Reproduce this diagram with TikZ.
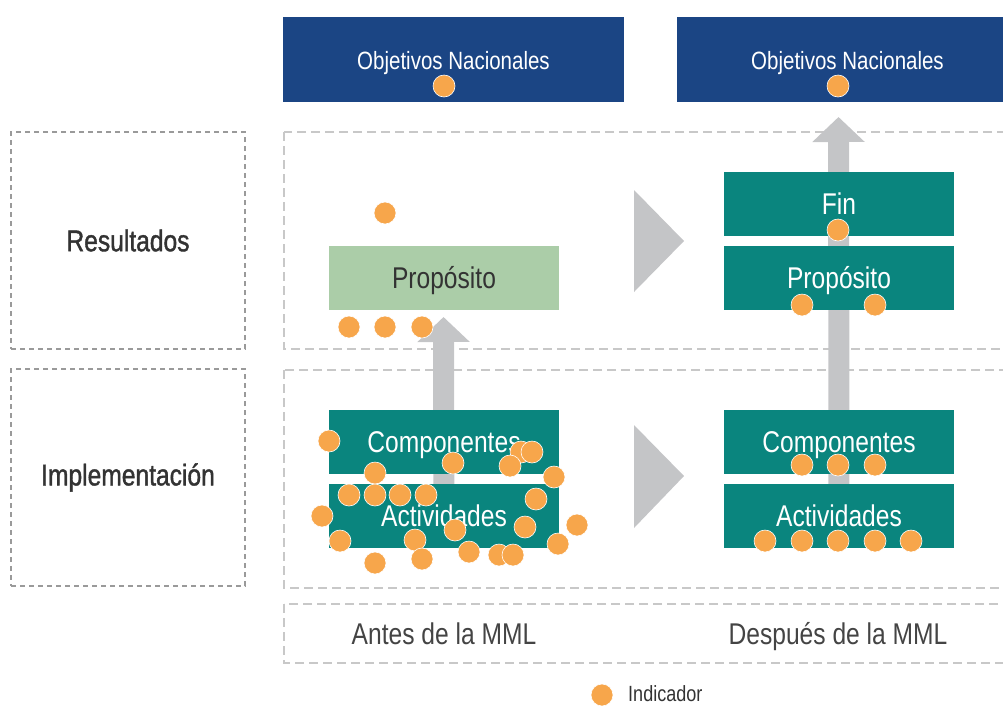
\documentclass[tikz,border=0pt]{standalone}
\usepackage{fontspec}
\setmainfont{Liberation Sans}[FakeStretch=0.82]
\newfontfamily\medfont{Liberation Sans}[FakeStretch=0.82,FakeBold=1.3]
\usetikzlibrary{arrows.meta}
\definecolor{navyc}{HTML}{1B4584}
\definecolor{tealc}{HTML}{0A857E}
\definecolor{greenc}{HTML}{ABCDA8}
\definecolor{orangec}{HTML}{F7A64B}
\definecolor{arrowc}{HTML}{C4C5C7}
\definecolor{dashc}{HTML}{C8C8C8}
\definecolor{ldashc}{HTML}{9A9A9A}
\definecolor{textc}{HTML}{444444}
\definecolor{darktextc}{HTML}{333333}
\pgfdeclarelayer{bgg}
\pgfdeclarelayer{bg}
\pgfsetlayers{bgg,bg,main}
\begin{document}
\begin{tikzpicture}[x=1pt,y=-1pt,
  dashbox/.style={draw=dashc, line width=2pt, dash pattern=on 9pt off 5pt},
  lbox/.style={draw=ldashc, line width=2pt, dash pattern=on 5pt off 4pt, minimum width=234pt, minimum height=217pt, inner sep=0pt, text=darktextc, font=\medfont\fontsize{30}{36}\selectfont},
  navybox/.style={fill=navyc, minimum width=341pt, minimum height=85pt, inner sep=0pt},
  navytext/.style={text=white, font=\fontsize{25}{30}\selectfont, inner sep=0pt, text height=17.9pt, text depth=0pt},
  tealbox/.style={fill=tealc, minimum width=230pt, minimum height=64pt, inner sep=0pt, text=white, font=\fontsize{30}{36}\selectfont, text height=21.5pt, text depth=0pt},
  greenbox/.style={fill=greenc, minimum width=230pt, minimum height=64pt, inner sep=0pt, text=darktextc, font=\fontsize{30}{36}\selectfont, text height=21.5pt, text depth=0pt},
  dotc/.style={fill=orangec, draw=white, line width=0.6pt},
  garrow/.style={draw=arrowc, line width=21pt, -{Triangle[length=25pt,width=51pt]}},
  bottomtext/.style={text=textc, font=\fontsize{30}{36}\selectfont, inner sep=0pt, text height=21.5pt, text depth=0pt}
]
\useasboundingbox (0,0) rectangle (1003,705);
\clip (0,0) rectangle (1003,705);

% left labels
\node[lbox] (res) at (128,240.5) {Resultados};
\node[lbox] (imp) at (128,477.5) {Implementación};

% dashed rows
\begin{pgfonlayer}{bgg}
\draw[dashbox] (284,132) rectangle (1030,349);
\draw[dashbox] (284,370) rectangle (1030,588);
\draw[dashbox] (284,604) rectangle (1030,663);
\end{pgfonlayer}

% top boxes
\node[navybox] (onl) at (453.5,59.5) {};
\node[navybox] (onr) at (847.5,59.5) {};
\node[navytext] (onlt) at (453.5,61) {Objetivos Nacionales};
\node[navytext] (onrt) at (847.5,61) {Objetivos Nacionales};

% left column boxes
\node[greenbox] (lprop) at (444,278) {Propósito};
\node[tealbox] (lcomp) at (444,442) {Componentes};
\node[tealbox] (lact) at (444,516) {Actividades};

% right column boxes
\node[tealbox] (rfin) at (839,204) {Fin};
\node[tealbox] (rprop) at (839,278) {Propósito};
\node[tealbox] (rcomp) at (839,442) {Componentes};
\node[tealbox] (ract) at (839,516) {Actividades};

% arrows
\coordinate (ltip) at (443.5,317);
\coordinate (rtip) at (838.5,117);
\begin{pgfonlayer}{bg}
\draw[garrow] (lact.center) -- (ltip);
\draw[garrow] (ract.center) -- (rtip);
\fill[arrowc] (634,190) -- (684,241) -- (634,292) -- cycle;
\fill[arrowc] (634,425) -- (684,476) -- (634,528) -- cycle;
\end{pgfonlayer}

% bottom texts
\node[bottomtext] (antes) at (444,634) {Antes de la MML};
\node[bottomtext] (despues) at (838,634) {Después de la MML};

% dots
\foreach \p in {(444,86),(838,86),
  (385,213),(349,327),(385,327),(422,327),
  (838,230),(802,305),(875,305),
  (802,465),(838,465),(875,465),
  (765,541),(802,541),(838,541),(875,541),(911,541),
  (329,441),(375,473),(453,463),(521,452),(532,452),(510,466),(554,477),
  (349,495),(375,495),(400,495),(426,495),(536,499),
  (322,516),(577,525),(455,530),(525,527),
  (340,541),(415,540),(558,544),(469,552),(499,555),(513,555),(422,559),(375,563)}
  \filldraw[dotc] \p circle[radius=11pt];

% legend
\filldraw[dotc] (602,695) circle[radius=11pt];
\node[anchor=west, text=darktextc, font=\fontsize{22}{26}\selectfont, inner sep=0pt] (leg) at (628,694) {Indicador};
\end{tikzpicture}
\end{document}
